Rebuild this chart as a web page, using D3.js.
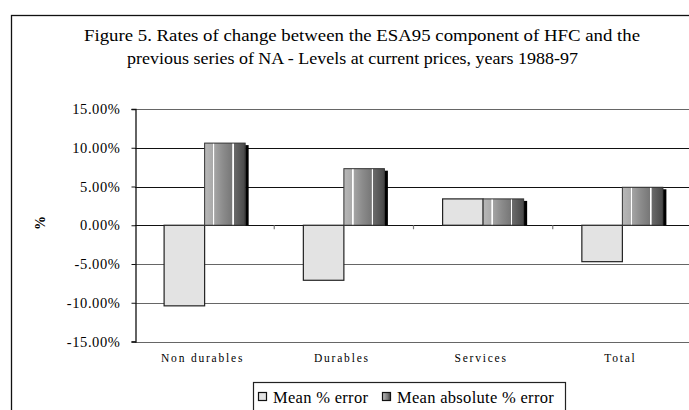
<!DOCTYPE html>
<html>
<head>
<meta charset="utf-8">
<script src="https://cdn.jsdelivr.net/npm/d3@7"></script>
<style>
  html, body { margin: 0; padding: 0; background: #fff; }
  svg { display: block; }
  text { font-family: "Liberation Serif", "Times New Roman", serif; fill: #000; }
</style>
</head>
<body>
<svg id="chart" width="689" height="410"></svg>
<script>
// Rates of change, ESA95 HFC vs previous NA series, 1988-97
const categories = ["Non durables", "Durables", "Services", "Total"];
const seriesNames = ["Mean % error", "Mean absolute % error"];
const meanError = [-0.104, -0.071, 0.034, -0.047];
const meanAbsError = [0.106, 0.073, 0.034, 0.049];
const yTicks = [-0.15, -0.10, -0.05, 0, 0.05, 0.10, 0.15];
const titleLines = [
  "Figure 5. Rates of change between the ESA95 component of HFC and the",
  "previous series of NA - Levels at current prices, years 1988-97"
];

const svg = d3.select("#chart");

// outer frame of the chart (runs past the right and bottom edges)
svg.append("rect")
  .attr("x", 11.5).attr("y", 15.5)
  .attr("width", 700).attr("height", 420)
  .attr("fill", "none").attr("stroke", "#111").attr("stroke-width", 1.3);

// title, two lines
const titleLayout = [{ x: 84, w: 556 }, { x: 127, w: 451 }];
svg.append("g").selectAll("text").data(titleLines).enter().append("text")
  .attr("x", (d, i) => titleLayout[i].x).attr("y", (d, i) => 41 + i * 23)
  .attr("textLength", (d, i) => titleLayout[i].w)
  .attr("lengthAdjust", "spacingAndGlyphs")
  .style("font-size", "17px")
  .text(d => d);

const plotLeft = 135, plotRight = 692;
const x = d3.scaleBand().domain(categories).range([plotLeft, plotRight]).paddingInner(0).paddingOuter(0);
const y = d3.scaleLinear().domain([-0.15, 0.15]).range([341.5, 109]);
const barW = x.bandwidth() * 0.291;

// gridlines
const gridColor = v => (v > 0 && v < 0.15) || v === 0 ? "#111" : "#666";
svg.append("g").selectAll("line").data(yTicks).enter().append("line")
  .attr("x1", plotLeft).attr("x2", plotRight)
  .attr("y1", d => Math.round(y(d)) + 0.5).attr("y2", d => Math.round(y(d)) + 0.5)
  .attr("stroke", d => gridColor(d)).attr("stroke-width", 1.2);

// gradient for the second series
const defs = svg.append("defs");
const grad = defs.append("linearGradient").attr("id", "darkGrad")
  .attr("x1", "0").attr("x2", "1").attr("y1", "0").attr("y2", "0");
[[0, "#b8b8b8"], [0.2, "#aaaaaa"], [0.21, "#ffffff"], [0.235, "#ffffff"], [0.245, "#a4a4a4"],
 [0.45, "#8c8c8c"], [0.68, "#777777"], [0.69, "#ffffff"], [0.715, "#ffffff"], [0.725, "#6a6a6a"],
 [1, "#484848"]].forEach(s => grad.append("stop").attr("offset", s[0]).attr("stop-color", s[1]));

const zeroY = y(0);

// first series: light bars left of the category centre
svg.append("g").selectAll("rect").data(meanError).enter().append("rect")
  .attr("x", (d, i) => x(categories[i]) + x.bandwidth() / 2 - barW)
  .attr("y", d => Math.min(y(d), zeroY))
  .attr("width", barW)
  .attr("height", d => Math.abs(y(d) - zeroY))
  .attr("fill", "#e3e3e3").attr("stroke", "#222").attr("stroke-width", 1.2);

// second series: shadow then gradient bar
const g2 = svg.append("g");
g2.selectAll("rect.shadow").data(meanAbsError).enter().append("rect")
  .attr("class", "shadow")
  .attr("x", (d, i) => x(categories[i]) + x.bandwidth() / 2 + barW)
  .attr("y", d => y(d) + 2)
  .attr("width", 3.5)
  .attr("height", d => zeroY - y(d) - 2)
  .attr("fill", "#000");
g2.selectAll("rect.bar").data(meanAbsError).enter().append("rect")
  .attr("class", "bar")
  .attr("x", (d, i) => x(categories[i]) + x.bandwidth() / 2)
  .attr("y", d => y(d))
  .attr("width", barW)
  .attr("height", d => zeroY - y(d))
  .attr("fill", "url(#darkGrad)").attr("stroke", "#333").attr("stroke-width", 1);

// y axis (plain hyphen for negatives)
const fmt = d3.formatLocale({ decimal: ".", thousands: ",", grouping: [3], currency: ["", ""], minus: "-" }).format(".2f");
const yAxis = d3.axisLeft(y).tickValues(yTicks).tickSize(4).tickPadding(11)
  .tickFormat(d => fmt(d * 100) + "%");
const ya = svg.append("g").attr("transform", `translate(${plotLeft + 0.5},0)`).call(yAxis);
ya.attr("font-family", null);
ya.select(".domain").attr("stroke", "#111").attr("stroke-width", 1.3);
ya.selectAll(".tick line").attr("stroke", "#111");
ya.selectAll(".tick text")
  .style("font-family", "'Liberation Serif', serif").style("font-size", "14.5px")
  .style("letter-spacing", "0.6px").attr("fill", "#000");

// category tick marks on the zero line
svg.append("g").selectAll("line").data(categories.slice(1)).enter().append("line")
  .attr("x1", d => x(d)).attr("x2", d => x(d))
  .attr("y1", zeroY).attr("y2", zeroY + 4)
  .attr("stroke", "#777").attr("stroke-width", 1.2);

// category labels
svg.append("g").selectAll("text").data(categories).enter().append("text")
  .attr("x", d => x(d) + x.bandwidth() / 2 - 2)
  .attr("y", 362)
  .attr("text-anchor", "middle")
  .style("font-size", "11.5px").style("letter-spacing", "1.8px")
  .text(d => d);

// y axis title
svg.append("text")
  .attr("transform", "translate(45,223) rotate(-90)")
  .attr("text-anchor", "middle")
  .style("font-size", "14px").style("font-weight", "bold")
  .text("%");

// legend
const lg = svg.append("g");
lg.append("rect").attr("x", 253.5).attr("y", 382.5).attr("width", 312).attr("height", 40)
  .attr("fill", "#fff").attr("stroke", "#222").attr("stroke-width", 1.2);
const legendItems = [
  { name: seriesNames[0], sx: 258, fill: "#e3e3e3" },
  { name: seriesNames[1], sx: 382, fill: "url(#darkGrad)" }
];
legendItems.forEach(it => {
  lg.append("rect").attr("x", it.sx + 0.5).attr("y", 392.5).attr("width", 8).attr("height", 8)
    .attr("fill", it.fill).attr("stroke", "#111").attr("stroke-width", 1.2);
  lg.append("text").attr("x", it.sx + 15).attr("y", 402.5)
    .style("font-size", "16.5px").style("letter-spacing", "0.3px").text(it.name);
});
</script>
</body>
</html>
